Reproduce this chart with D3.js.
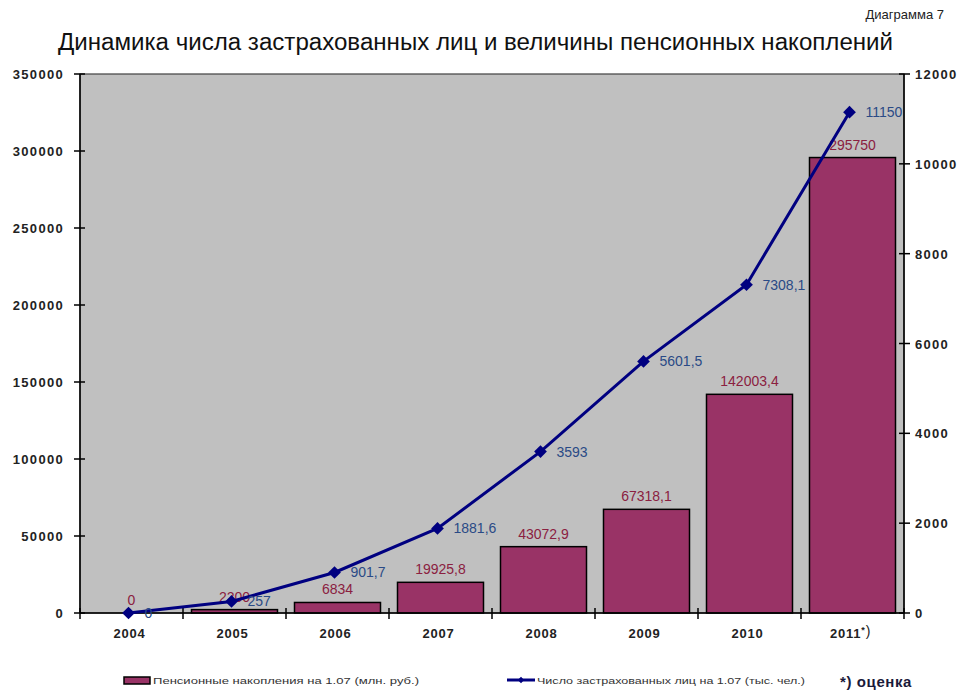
<!DOCTYPE html>
<html>
<head>
<meta charset="utf-8">
<script src="https://cdn.jsdelivr.net/npm/d3@7"></script>
<style>
  body { margin: 0; background: #fff; }
  text { font-family: "Liberation Sans", Arial, sans-serif; }
</style>
</head>
<body>
<svg id="canvas" width="968" height="693"></svg>
<script>
// data
var years = ["2004", "2005", "2006", "2007", "2008", "2009", "2010", "2011"];
var savings = [0, 2200, 6834, 19925.8, 43072.9, 67318.1, 142003.4, 295750];   // млн. руб.
var insured = [0, 257, 901.7, 1881.6, 3593, 5601.5, 7308.1, 11150];          // тыс. чел.
var leftTicks = [0, 50000, 100000, 150000, 200000, 250000, 300000, 350000];
var rightTicks = [0, 2000, 4000, 6000, 8000, 10000, 12000];

var svg = d3.select("#canvas");
var plotLeft = 80, plotRight = 904, plotTop = 74, plotBottom = 613;

var x = d3.scaleBand().domain(years).range([plotLeft, plotRight]).paddingInner(0.165).paddingOuter(0.0825);
var xc = d3.scaleBand().domain(years).range([plotLeft, plotRight]);
var yL = d3.scaleLinear().domain([0, 350000]).range([plotBottom, plotTop]);
var yR = d3.scaleLinear().domain([0, 12000]).range([plotBottom, plotTop]);

function fmt(v) { return String(v).replace(".", ","); }

// title
svg.append("text").attr("x", 944).attr("y", 19).attr("text-anchor", "end")
  .attr("font-size", 13).attr("fill", "#222").text("Диаграмма  7");
svg.append("text").attr("x", 58).attr("y", 50)
  .attr("font-size", 23).attr("fill", "#111")
  .attr("textLength", 835).attr("lengthAdjust", "spacingAndGlyphs")
  .text("Динамика числа застрахованных лиц и величины пенсионных накоплений");

// plot area
svg.append("rect").attr("x", plotLeft).attr("y", plotTop)
  .attr("width", plotRight - plotLeft).attr("height", plotBottom - plotTop)
  .attr("fill", "#c0c0c0").attr("stroke", "#404040").attr("stroke-width", 1.2);

// bars
svg.append("g").selectAll("rect").data(savings).enter().append("rect")
  .attr("x", function(d, i) { return x(years[i]); })
  .attr("y", function(d) { return yL(d); })
  .attr("width", x.bandwidth())
  .attr("height", function(d) { return plotBottom - yL(d); })
  .attr("fill", "#993366").attr("stroke", "#000").attr("stroke-width", 1.5);

// axes
var axes = svg.append("g").attr("stroke", "#000").attr("stroke-width", 1.5);
axes.append("line").attr("x1", plotLeft).attr("x2", plotLeft).attr("y1", plotTop).attr("y2", plotBottom);
axes.append("line").attr("x1", plotRight).attr("x2", plotRight).attr("y1", plotTop).attr("y2", plotBottom);
axes.append("line").attr("x1", plotLeft).attr("x2", plotRight).attr("y1", plotBottom).attr("y2", plotBottom);
axes.selectAll(".lt").data(leftTicks).enter().append("line")
  .attr("x1", plotLeft - 6).attr("x2", plotLeft + 5)
  .attr("y1", function(d) { return yL(d); }).attr("y2", function(d) { return yL(d); });
axes.selectAll(".rt").data(rightTicks).enter().append("line")
  .attr("x1", plotRight - 5).attr("x2", plotRight + 6)
  .attr("y1", function(d) { return yR(d); }).attr("y2", function(d) { return yR(d); });
axes.selectAll(".bt").data(years.concat(["end"])).enter().append("line")
  .attr("x1", function(d, i) { return plotLeft + i * xc.step(); })
  .attr("x2", function(d, i) { return plotLeft + i * xc.step(); })
  .attr("y1", plotBottom - 5).attr("y2", plotBottom + 6);

svg.append("g").selectAll("text").data(leftTicks).enter().append("text")
  .attr("x", 64).attr("y", function(d) { return yL(d) + 5; })
  .attr("text-anchor", "end").attr("font-size", 13).attr("font-weight", "bold")
  .attr("letter-spacing", 1.3).attr("fill", "#222")
  .text(function(d) { return d; });
svg.append("g").selectAll("text").data(rightTicks).enter().append("text")
  .attr("x", 915).attr("y", function(d) { return yR(d) + 5; })
  .attr("font-size", 13).attr("font-weight", "bold")
  .attr("letter-spacing", 1.3).attr("fill", "#222")
  .text(function(d) { return d; });
var xl = svg.append("g").selectAll("text").data(years).enter().append("text")
  .attr("x", function(d) { return xc(d) + xc.bandwidth() / 2 - 2; }).attr("y", 638)
  .attr("text-anchor", "middle").attr("font-size", 13).attr("font-weight", "bold")
  .attr("letter-spacing", 0.8).attr("fill", "#222")
  .text(function(d) { return d; });
xl.filter(function(d, i) { return i === years.length - 1; }).append("tspan")
  .attr("dy", -5).attr("font-size", 9).text("*");
xl.filter(function(d, i) { return i === years.length - 1; }).append("tspan")
  .attr("dy", 3).attr("font-size", 14).attr("font-weight", "normal").text(")");

// bar labels
svg.append("g").selectAll("text").data(savings).enter().append("text")
  .attr("x", function(d, i) { return x(years[i]) + x.bandwidth() / 2; })
  .attr("y", function(d) { return yL(d) - 8; })
  .attr("text-anchor", "middle").attr("font-size", 14).attr("fill", "#8b2040")
  .text(function(d) { return fmt(d); });

// line
var cx = function(i) { return xc(years[i]) + xc.bandwidth() / 2 - 3; };
var line = d3.line().x(function(d, i) { return cx(i); }).y(function(d) { return yR(d); });
svg.append("path").datum(insured).attr("d", line)
  .attr("fill", "none").attr("stroke", "#000080").attr("stroke-width", 3);
svg.append("g").selectAll("path").data(insured).enter().append("path")
  .attr("d", d3.symbol().type(d3.symbolSquare).size(81))
  .attr("transform", function(d, i) { return "translate(" + cx(i) + "," + yR(d) + ") rotate(45)"; })
  .attr("fill", "#000080");
svg.append("g").selectAll("text").data(insured).enter().append("text")
  .attr("x", function(d, i) { return cx(i) + 16; })
  .attr("y", function(d) { return yR(d) + 5; })
  .attr("font-size", 14).attr("fill", "#2a4a86")
  .text(function(d) { return fmt(d); });

// legend
var lg = svg.append("g");
lg.append("rect").attr("x", 124).attr("y", 677).attr("width", 26).attr("height", 7)
  .attr("fill", "#993366").attr("stroke", "#000").attr("stroke-width", 1.5);
lg.append("text").attr("x", 153).attr("y", 684).attr("font-size", 8.5).attr("fill", "#333")
  .attr("textLength", 266).attr("lengthAdjust", "spacingAndGlyphs")
  .text("Пенсионные накопления на 1.07 (млн. руб.)");
lg.append("line").attr("x1", 507).attr("x2", 535).attr("y1", 680).attr("y2", 680)
  .attr("stroke", "#000080").attr("stroke-width", 3);
lg.append("path").attr("d", d3.symbol().type(d3.symbolSquare).size(20))
  .attr("transform", "translate(521,680) rotate(45)").attr("fill", "#000080");
lg.append("text").attr("x", 537).attr("y", 684).attr("font-size", 8.5).attr("fill", "#333")
  .attr("textLength", 268).attr("lengthAdjust", "spacingAndGlyphs")
  .text("Число застрахованных лиц на 1.07 (тыс. чел.)");
lg.append("text").attr("x", 840).attr("y", 687).attr("font-size", 15).attr("font-weight", "bold").attr("fill", "#1a1a3a")
  .attr("letter-spacing", 0.6)
  .text("*) оценка");
</script>
</body>
</html>
